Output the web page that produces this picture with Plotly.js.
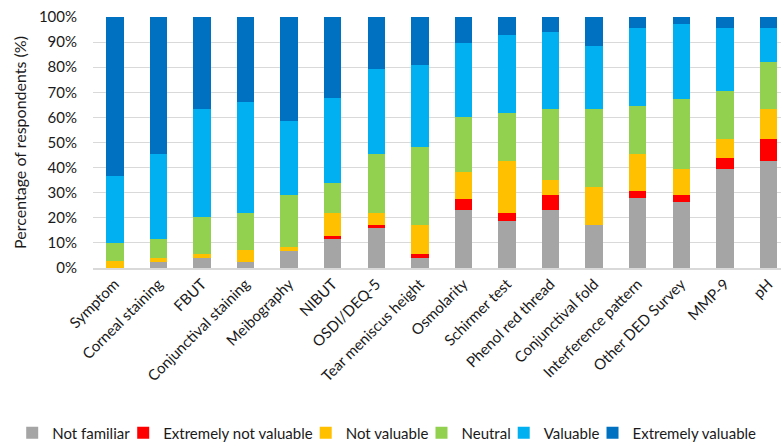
<!DOCTYPE html>
<html>
<head>
<meta charset="utf-8">
<script src="https://cdn.plot.ly/plotly-3.0.1.min.js"></script>
<style>html,body{margin:0;padding:0;background:#fff;}#chart{width:781px;height:445px;}</style>
</head>
<body>
<div id="chart"></div>
<script>
var categories = ["Symptom","Corneal staining","FBUT","Conjunctival staining","Meibography","NIBUT","OSDI/DEQ-5","Tear meniscus height","Osmolarity","Schirmer test","Phenol red thread","Conjunctival fold","Interference pattern","Other DED Survey","MMP-9","pH"];
var notFamiliar       = [0.0, 2.4, 4.0, 2.4, 6.9, 11.6, 16.0, 4.1, 23.3, 18.8, 23.3, 17.3, 27.7, 26.2, 39.5, 42.5];
var extremelyNotValuable = [0.0, 0.0, 0.0, 0.0, 0.0, 1.3, 1.3, 1.5, 4.3, 3.0, 5.9, 0.0, 2.9, 3.0, 4.4, 8.8];
var notValuable       = [2.7, 1.7, 1.5, 4.7, 1.6, 8.9, 4.5, 11.7, 10.5, 20.7, 6.0, 14.8, 14.8, 10.3, 7.5, 11.9];
var neutral           = [7.3, 7.4, 14.7, 14.7, 20.7, 11.9, 23.6, 31.0, 22.1, 19.3, 28.0, 31.1, 19.2, 28.0, 19.2, 19.0];
var valuable          = [26.6, 33.9, 43.0, 44.4, 29.5, 33.9, 34.0, 32.7, 29.5, 30.9, 30.9, 25.1, 31.0, 29.6, 25.0, 13.4];
var extremelyValuable = [63.4, 54.6, 36.8, 33.8, 41.3, 32.4, 20.6, 19.0, 10.3, 7.3, 5.9, 11.7, 4.4, 2.9, 4.4, 4.4];
var seriesNames = ["Not familiar","Extremely not valuable","Not valuable","Neutral","Valuable","Extremely valuable"];
var seriesColors = ["#A5A5A5","#FF0000","#FFC000","#92D050","#00B0F0","#0070C0"];
var yTickVals = [0,10,20,30,40,50,60,70,80,90,100];
var yTickText = ["0%","10%","20%","30%","40%","50%","60%","70%","80%","90%","100%"];

var allSeries = [notFamiliar, extremelyNotValuable, notValuable, neutral, valuable, extremelyValuable];
var traces = allSeries.map(function(vals, i){
  return {
    type: 'bar',
    x: categories,
    y: vals,
    name: seriesNames[i],
    marker: {color: seriesColors[i], line: {width: 0}},
    hoverinfo: 'x+y+name'
  };
});

var font = "Lato, 'Open Sans', sans-serif";
var txt = '#1a1a1a';
var layout = {
  width: 781, height: 445,
  barmode: 'stack',
  bargap: 0.6,
  paper_bgcolor: '#fff', plot_bgcolor: '#fff',
  margin: {l: 93, r: 0, t: 17, b: 177, autoexpand: false},
  font: {family: font, size: 15, color: txt},
  xaxis: {
    range: [-0.5, 15.29],
    tickangle: -45,
    tickfont: {family: font, size: 15, color: txt},
    showgrid: false,
    showline: true, linecolor: '#d9d9d9', linewidth: 1.5,
    ticks: '', fixedrange: true
  },
  yaxis: {
    range: [0, 100],
    tickvals: yTickVals, ticktext: yTickText,
    tickfont: {family: font, size: 15, color: txt},
    showgrid: true, gridcolor: '#d9d9d9', gridwidth: 1,
    zeroline: false, showline: false, ticks: '',
    ticklabelstandoff: 15,
    title: {text: 'Percentage of respondents (%)', font: {family: font, size: 16, color: txt}, standoff: 8},
    fixedrange: true
  },
  showlegend: true,
  legend: {
    orientation: 'h', traceorder: 'normal',
    xref: 'paper', yref: 'paper',
    x: -0.1, xanchor: 'left', y: -0.592, yanchor: 'top',
    font: {family: font, size: 15, color: txt},
    itemwidth: 30, indentation: -12, tracegroupgap: 0
  }
};
Plotly.newPlot('chart', traces, layout, {displayModeBar: false, staticPlot: true});
</script>
</body>
</html>
